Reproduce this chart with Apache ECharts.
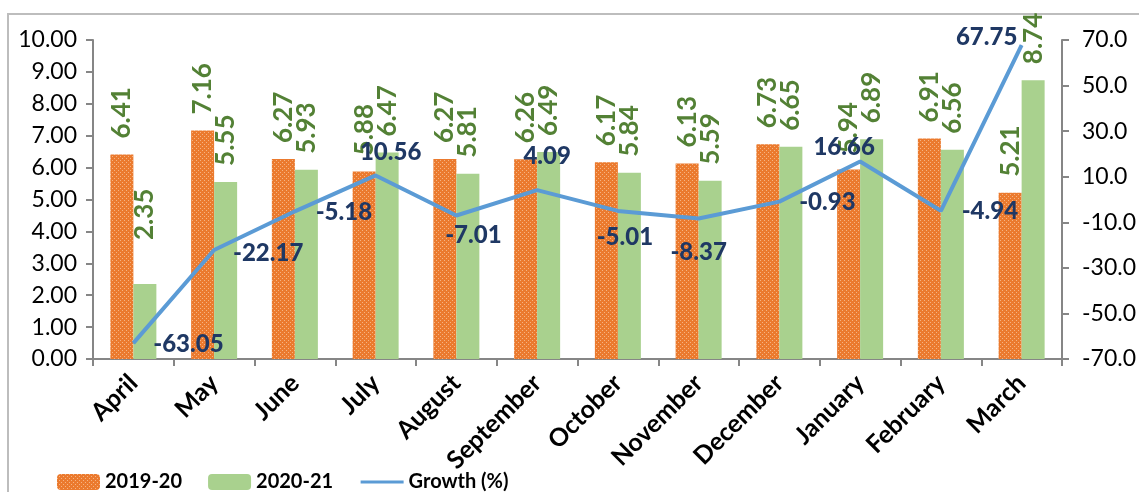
<!DOCTYPE html>
<html>
<head>
<meta charset="utf-8">
<script src="https://cdn.jsdelivr.net/npm/echarts@6/dist/echarts.min.js"></script>
<style>
  html, body { margin: 0; padding: 0; background: #fff; overflow: hidden; }
  #frame { position: absolute; left: 7px; top: 13px; width: 1200px; height: 600px; border: 2px solid #BDBDBD; box-sizing: border-box; }
  #chart { position: absolute; left: 0; top: 0; width: 1139px; height: 492px; }
</style>
</head>
<body>
<div id="frame"></div>
<div id="chart"></div>
<script>
// ---- data ----
const categories = ['April','May','June','July','August','September','October','November','December','January','February','March'];
const series2019 = [6.41, 7.16, 6.27, 5.88, 6.27, 6.26, 6.17, 6.13, 6.73, 5.94, 6.91, 5.21];
const series2020 = [2.35, 5.55, 5.93, 6.47, 5.81, 6.49, 5.84, 5.59, 6.65, 6.89, 6.56, 8.74];
const growth = [-63.05, -22.17, -5.18, 10.56, -7.01, 4.09, -5.01, -8.37, -0.93, 16.66, -4.94, 67.75];
const leftTicks = { min: 0, max: 10, interval: 1 };
const rightTicks = { min: -70, max: 70, interval: 20 };

// ---- layout tweaks (label placement, not data) ----
const growthLabelOffsets = [[55,1],[54,3],[49,1],[15,-23],[17,20],[10,-34],[7,26],[0,34],[48,1],[-16,-14],[49,1],[-35,-8]];
const bar2020LabelDistance = { 0: 44 };

// orange dotted pattern
const pc = document.createElement('canvas');
pc.width = 4; pc.height = 4;
const g = pc.getContext('2d');
g.fillStyle = '#EB7A2E'; g.fillRect(0,0,4,4);
g.fillStyle = '#F6B483';
g.fillRect(0,0,1,1); g.fillRect(2,2,1,1);
const orangePattern = { image: pc, repeat: 'repeat' };

const FONT = 'Lato, "Open Sans", sans-serif';
const axisGray = '#868686';

const barLabel = {
  show: true, position: 'top', rotate: 90, distance: 16,
  align: 'left', verticalAlign: 'middle',
  color: '#538135', fontFamily: FONT, fontWeight: 'bold', fontSize: 26,
  formatter: p => Number(p.value).toFixed(2)
};

const growthLabel = {
  show: true, position: 'inside', align: 'center', verticalAlign: 'middle',
  color: '#1F3864', fontFamily: FONT, fontWeight: 900, fontSize: 24,
  textBorderWidth: 0,
  formatter: p => Number(p.value).toFixed(2)
};

const chart = echarts.init(document.getElementById('chart'), null, { renderer: 'canvas' });
chart.setOption({
  animation: false,
  backgroundColor: 'transparent',
  grid: { left: 93, right: 77, top: 40, bottom: 133, containLabel: false },
  legend: {
    left: 52, top: 467, itemWidth: 43, itemHeight: 16, itemGap: 26,
    textStyle: { fontFamily: FONT, fontWeight: 'bold', fontSize: 20, color: '#000' },
    data: ['2019-20', '2020-21', { name: 'Growth (%)', itemStyle: { opacity: 0 }, lineStyle: { width: 3, color: '#5B9BD5' } }]
  },
  xAxis: {
    type: 'category', data: categories,
    axisLine: { lineStyle: { color: axisGray, width: 2 } },
    axisTick: { show: true, length: 7, lineStyle: { color: axisGray, width: 2 } },
    axisLabel: { rotate: 45, margin: 20, interval: 0, fontFamily: FONT, fontWeight: 'bold', fontSize: 25, color: '#000' }
  },
  yAxis: [
    {
      type: 'value', min: leftTicks.min, max: leftTicks.max, interval: leftTicks.interval,
      axisLine: { show: true, lineStyle: { color: axisGray, width: 2 } },
      axisTick: { show: true, length: 7, lineStyle: { color: axisGray, width: 2 } },
      splitLine: { show: false },
      axisLabel: { margin: 16, fontFamily: FONT, fontSize: 23, color: '#000', formatter: v => v.toFixed(2) }
    },
    {
      type: 'value', min: rightTicks.min, max: rightTicks.max, interval: rightTicks.interval,
      position: 'right',
      axisLine: { show: true, lineStyle: { color: axisGray, width: 2 } },
      axisTick: { show: true, length: 7, lineStyle: { color: axisGray, width: 2 } },
      splitLine: { show: false },
      axisLabel: { margin: 20, fontFamily: FONT, fontSize: 23, color: '#000', formatter: v => v.toFixed(1) }
    }
  ],
  series: [
    {
      name: '2019-20', type: 'bar', yAxisIndex: 0, barWidth: 23, barGap: '0%',
      itemStyle: { color: orangePattern },
      label: barLabel, z: 2,
      data: series2019
    },
    {
      name: '2020-21', type: 'bar', yAxisIndex: 0, barWidth: 23, barGap: '0%',
      itemStyle: { color: '#A9D18E' },
      label: barLabel, z: 2,
      data: series2020.map((v, i) => bar2020LabelDistance[i] !== undefined
        ? { value: v, label: { distance: bar2020LabelDistance[i] } } : v)
    },
    {
      name: 'Growth (%)', type: 'line', yAxisIndex: 1, symbol: 'circle', symbolSize: 1, showSymbol: true, z: 5,
      lineStyle: { color: '#5B9BD5', width: 4 },
      itemStyle: { color: '#5B9BD5' },
      label: growthLabel,
      data: growth.map((v, i) => ({ value: v, label: Object.assign({}, growthLabel, { offset: growthLabelOffsets[i] }) }))
    }
  ]
});
</script>
</body>
</html>
